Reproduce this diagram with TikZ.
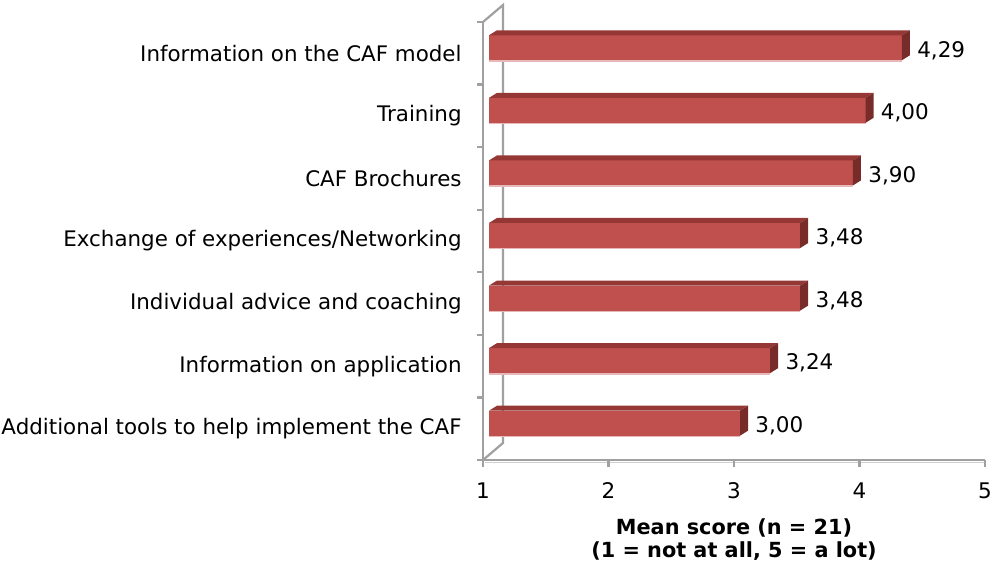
\documentclass[tikz,border=0pt]{standalone}
\usepackage{fontspec}
\setmainfont{DejaVu Sans}
\usetikzlibrary{calc}

\definecolor{barfront}{HTML}{C0504D}
\definecolor{bartop}{HTML}{953735}
\definecolor{barside}{HTML}{772C2A}
\definecolor{barlow}{HTML}{E6B9B8}
\definecolor{axisgray}{HTML}{A0A0A0}

\tikzset{
    axisline/.style={draw=axisgray, line width=1.1pt},
    catlabel/.style={anchor=east, inner sep=0pt, font=\fontsize{10.7}{12}\selectfont},
    vallabel/.style={anchor=west, inner sep=0pt, font=\fontsize{10.75}{12}\selectfont},
    ticklabel/.style={inner sep=0pt, font=\fontsize{10.75}{12}\selectfont},
    titlelabel/.style={align=center, inner sep=0pt, font=\fontsize{10.4}{11.5}\selectfont\bfseries}
}

\begin{document}
\begin{tikzpicture}[x=0.5pt, y=-0.5pt]
    \useasboundingbox (0,0) rectangle (992,565);
    % wall and axes
    \draw[axisline](483,22)--(483,460)--(985,460);
    \draw[axisline](483,22)--(503,5)--(503,443)--(483,460);
    \draw[draw=axisgray!50, line width=0.6pt](485,462.5)--(985,462.5);
    \foreach \k in {0,...,7}
        \draw[axisline](477,22+62.57*\k)--(483,22+62.57*\k);
    \foreach \t in {1,...,5}{
        \draw[axisline](483+125.5*\t-125.5,460)--(483+125.5*\t-125.5,467);
        \node[ticklabel] (tick\t) at (483+125.5*\t-125.5,491){\t};
    }
    % bars
    \foreach \v/\txt/\lab [count=\i] in {4.29/{4,29}/{Information on the CAF model},
                                         4.00/{4,00}/{Training},
                                         3.90/{3,90}/{CAF Brochures},
                                         3.48/{3,48}/{Exchange of experiences/Networking},
                                         3.48/{3,48}/{Individual advice and coaching},
                                         3.24/{3,24}/{Information on application},
                                         3.00/{3,00}/{Additional tools to help implement the CAF}}{
        \pgfmathsetmacro{\yc}{22+62.57*(\i-0.5)}
        \pgfmathsetmacro{\xe}{489+125.5*(\v-1)}
        \fill[barlow](489,\yc+6)rectangle(\xe,\yc+8.5);
        \fill[barfront](489,\yc-18)rectangle(\xe,\yc+7);
        \fill[bartop](489,\yc-18)--(497,\yc-23)--(\xe+8,\yc-23)--(\xe,\yc-18)--cycle;
        \fill[barside](\xe,\yc-18)--(\xe+8,\yc-23)--(\xe+8,\yc+2)--(\xe,\yc+7)--cycle;
        \node[catlabel] (cat\i) at (462,\yc){\lab};
        \node[vallabel] (val\i) at (\xe+15,\yc-3){\txt};
    }
    \node[titlelabel] (title) at (734,540){Mean score (n = 21)\\(1 = not at all, 5 = a lot)};
\end{tikzpicture}
\end{document}
